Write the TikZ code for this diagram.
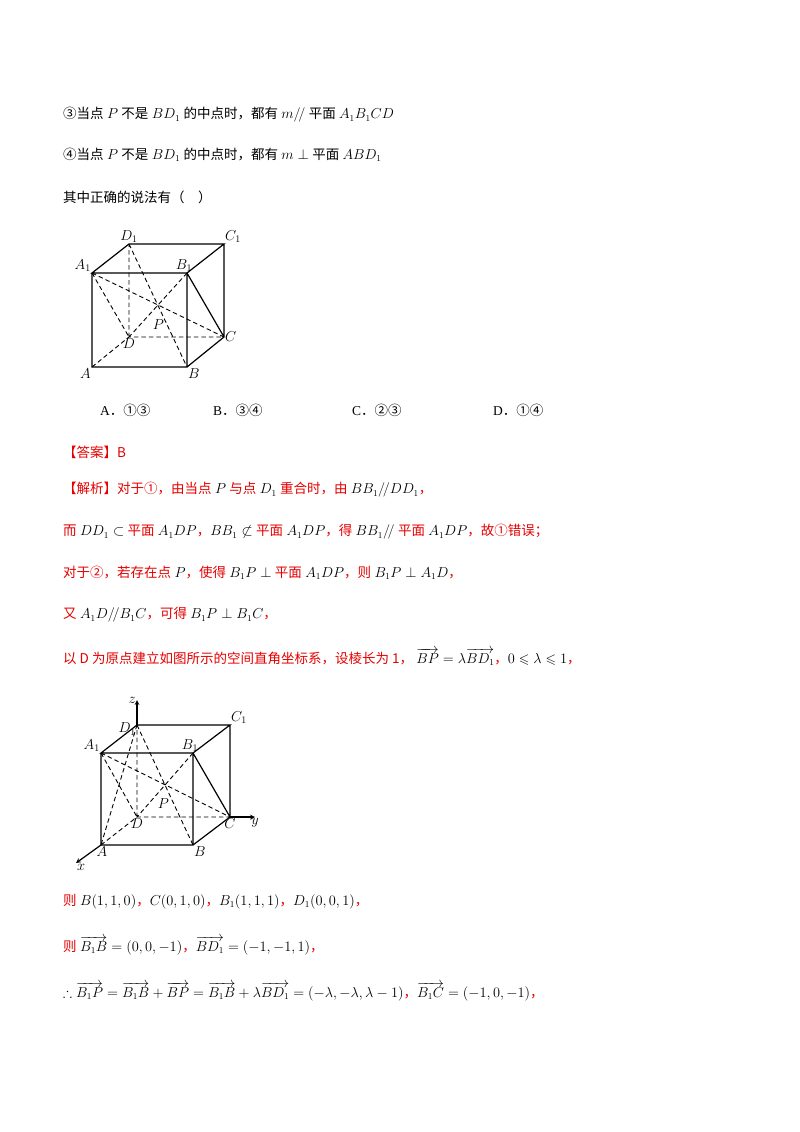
\documentclass[tikz,border=0pt]{standalone}
\usepackage{amsmath,amssymb}
\usepackage{fontspec}
\setmainfont{Liberation Serif}
\newfontfamily\cjk{Noto Sans CJK SC}
\definecolor{ansred}{RGB}{230,0,0}
\newcommand{\zh}[1]{{\cjk #1}}
\newcommand{\rz}[1]{{\cjk\color{ansred}#1}}
\begin{document}
\begin{tikzpicture}[x=1pt,y=-1pt,
  txt/.style={anchor=west,inner sep=0pt,font=\fontsize{13.5}{16}\selectfont},
  lbl/.style={inner sep=1pt,font=\fontsize{14}{16}\selectfont\itshape},
  edge/.style={line width=1.2pt},
  hid/.style={line width=0.9pt,dashed,dash pattern=on 4.5pt off 3pt}]
\useasboundingbox (0,0) rectangle (800,1132);
\fill[white] (0,0) rectangle (800,1132);
\node[txt] (l1) at (63,115) {\zh{③当点} $P$ \zh{不是} $BD_1$ \zh{的中点时，都有} $m/\!/$ \zh{平面} $A_1B_1CD$};
\node[txt] (l2) at (63,155) {\zh{④当点} $P$ \zh{不是} $BD_1$ \zh{的中点时，都有} $m\perp$ \zh{平面} $ABD_1$};
\node[txt] (l3) at (63,197) {\zh{其中正确的说法有（\quad）}};
% cube 1
\coordinate (A1) at (92,273); \coordinate (D1) at (129,244); \coordinate (C1) at (224,244); \coordinate (B1) at (187,273);
\coordinate (A) at (92,367); \coordinate (B) at (187,367); \coordinate (C) at (224,337); \coordinate (D) at (129,337); \coordinate (P) at (165,320);
\draw[edge] (A1)--(B1)--(C1)--(D1)--cycle (A1)--(A)--(B)--(B1) (B)--(C)--(C1) (B1)--(C);
\draw[hid] (D)--(D1) (A)--(D)--(C) (A1)--(C) (A1)--(D) (D1)--(B) (B1)--(D);
\node[lbl,above left] at (A1) {$A_1$}; \node[lbl,above] at (D1) {$D_1$}; \node[lbl,above right] at (C1) {$C_1$};
\node[lbl,above,xshift=-3pt] at (B1) {$B_1$}; \node[lbl,below left] at (A) {$A$}; \node[lbl,below right] at (B) {$B$};
\node[lbl,right] at (C) {$C$}; \node[lbl,below] at (D) {$D$}; \node[lbl,below left,yshift=2pt] at (P) {$P$};
\node[txt] (ca) at (100,410) {A\zh{．①③}};
\node[txt] (cb) at (213,410) {B\zh{．③④}};
\node[txt] (cc) at (352,410) {C\zh{．②③}};
\node[txt] (cd) at (493,410) {D\zh{．①④}};
\node[txt] (ans) at (63,452) {\rz{【答案】B}};
\node[txt] (s1) at (63,490) {\rz{【解析】对于①，由当点} $P$ \rz{与点} $D_1$ \rz{重合时，由} $BB_1/\!/DD_1$\rz{，}};
\node[txt] (s2) at (63,532) {\rz{而} $DD_1\subset$ \rz{平面} $A_1DP$\rz{，}$BB_1\not\subset$ \rz{平面} $A_1DP$\rz{，得} $BB_1/\!/$ \rz{平面} $A_1DP$\rz{，故①错误；}};
\node[txt] (s3) at (63,573) {\rz{对于②，若存在点} $P$\rz{，使得} $B_1P\perp$ \rz{平面} $A_1DP$\rz{，则} $B_1P\perp A_1D$\rz{，}};
\node[txt] (s4) at (63,615) {\rz{又} $A_1D/\!/B_1C$\rz{，可得} $B_1P\perp B_1C$\rz{，}};
\node[txt] (s5) at (63,657) {\rz{以 D 为原点建立如图所示的空间直角坐标系，设棱长为 1，} $\overrightarrow{BP}=\lambda\overrightarrow{BD_1}$\rz{，}$0\leqslant\lambda\leqslant1$\rz{，}};
% cube 2
\coordinate (a1) at (101,753); \coordinate (d1) at (137,725); \coordinate (c1) at (230,725); \coordinate (b1) at (193,753);
\coordinate (a) at (101,845); \coordinate (b) at (193,845); \coordinate (c) at (230,817); \coordinate (d) at (137,817); \coordinate (p) at (170,799);
\coordinate (zt) at (137,700); \coordinate (yt) at (255,817); \coordinate (xt) at (76,863);
\draw[edge] (a1)--(b1)--(c1)--(d1)--cycle (a1)--(a)--(b)--(b1) (b)--(c)--(c1) (b1)--(c);
\draw[hid] (d)--(d1) (a)--(d)--(c) (a1)--(c) (a1)--(d) (d1)--(b) (b1)--(d) (d1)--(a);
\draw[edge,-stealth] (d1)--(zt); \draw[edge,-stealth] (c)--(yt); \draw[edge,-stealth] (a)--(xt);
\node[lbl,left] at (zt) {$z$}; \node[lbl,below] at (yt) {$y$}; \node[lbl,below right] at (xt) {$x$};
\node[lbl,above left] at (a1) {$A_1$}; \node[lbl,left,yshift=-4pt] at (d1) {$D_1$}; \node[lbl,above right] at (c1) {$C_1$};
\node[lbl,above,xshift=-3pt] at (b1) {$B_1$}; \node[lbl,below,xshift=1pt] at (a) {$A$}; \node[lbl,below right] at (b) {$B$};
\node[lbl,below] at (c) {$C$}; \node[lbl,below] at (d) {$D$}; \node[lbl,below left,yshift=2pt] at (p) {$P$};
\node[txt] (t1) at (63,902) {\rz{则} $B(1,1,0)$\rz{，}$C(0,1,0)$\rz{，}$B_1(1,1,1)$\rz{，}$D_1(0,0,1)$\rz{，}};
\node[txt] (t2) at (63,946) {\rz{则} $\overrightarrow{B_1B}=(0,0,-1)$\rz{，}$\overrightarrow{BD_1}=(-1,-1,1)$\rz{，}};
\node[txt] (t3) at (63,992) {$\therefore\overrightarrow{B_1P}=\overrightarrow{B_1B}+\overrightarrow{BP}=\overrightarrow{B_1B}+\lambda\overrightarrow{BD_1}=(-\lambda,-\lambda,\lambda-1)$\rz{，}$\overrightarrow{B_1C}=(-1,0,-1)$\rz{，}};
\end{tikzpicture}
\end{document}
